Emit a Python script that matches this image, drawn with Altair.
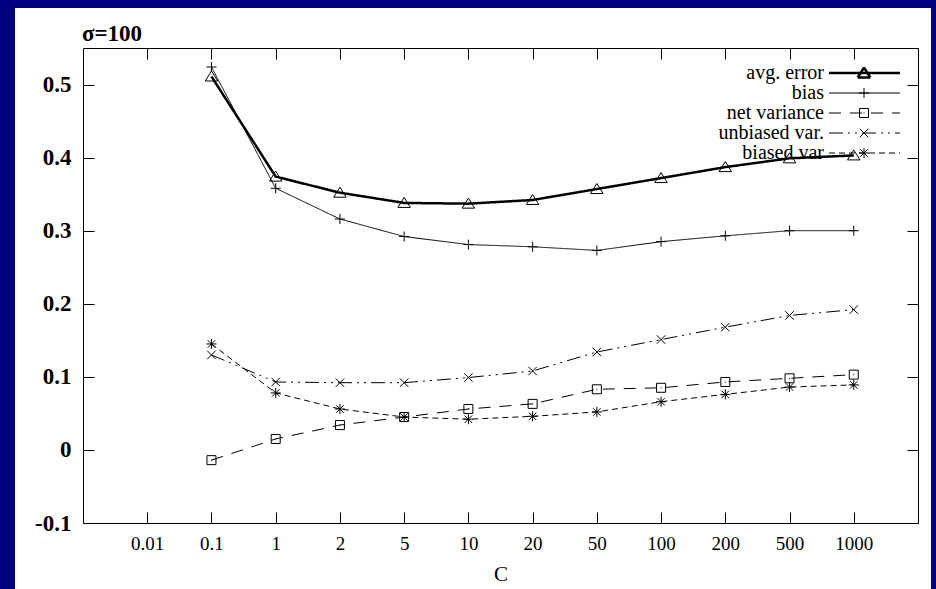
import altair as alt
import pandas as pd

# ---------------- data ----------------
C_labels = ["0.01", "0.1", "1", "2", "5", "10", "20", "50", "100", "200", "500", "1000"]
C_data = ["0.1", "1", "2", "5", "10", "20", "50", "100", "200", "500", "1000"]
series_names = ["avg. error", "bias", "net variance", "unbiased var.", "biased var"]

avg_error = [0.511, 0.374, 0.352, 0.338, 0.337, 0.342, 0.357, 0.372, 0.387, 0.399, 0.403]
bias = [0.524, 0.358, 0.316, 0.292, 0.281, 0.278, 0.273, 0.285, 0.293, 0.300, 0.300]
net_variance = [-0.014, 0.015, 0.034, 0.045, 0.056, 0.063, 0.083, 0.085, 0.093, 0.098, 0.103]
unbiased_var = [0.130, 0.093, 0.092, 0.092, 0.099, 0.108, 0.134, 0.151, 0.168, 0.184, 0.192]
biased_var = [0.145, 0.078, 0.056, 0.045, 0.042, 0.046, 0.052, 0.066, 0.076, 0.086, 0.089]

y_ticks = [-0.1, 0, 0.1, 0.2, 0.3, 0.4, 0.5]

rows = []
for name, vals in zip(series_names, [avg_error, bias, net_variance, unbiased_var, biased_var]):
    for c, v in zip(C_data, vals):
        rows.append({"C": c, "series": name, "value": v})
df = pd.DataFrame(rows)

# ---------------- styles ----------------
FONT = "Liberation Serif"
W, H = 916, 581
X_RANGE = [68, 903]
Y_RANGE = [515, 40]

dashes = [[1, 0], [1, 0], [12, 9], [14, 5, 2, 5, 2, 5], [6, 4]]
widths = [2.5, 1, 1, 1, 1]

# marker shapes as (segments) in unit coordinates
marker_segments = [
    [[(0, -1.1), (1.25, 0.9)], [(1.25, 0.9), (-1.25, 0.9)], [(-1.25, 0.9), (0, -1.1)]],
    [[(-1, 0), (1, 0)], [(0, -1), (0, 1)]],
    [[(-0.9, -0.9), (0.9, -0.9)], [(0.9, -0.9), (0.9, 0.9)], [(0.9, 0.9), (-0.9, 0.9)],
     [(-0.9, 0.9), (-0.9, -0.9)], [(-0.1, 0), (0.1, 0)]],
    [[(-0.85, -0.85), (0.85, 0.85)], [(-0.85, 0.85), (0.85, -0.85)]],
    [[(0, 0), (1, 0)], [(0, 0), (-1, 0)], [(0, 0), (0, 1)], [(0, 0), (0, -1)],
     [(0, 0), (0.75, 0.75)], [(0, 0), (-0.75, -0.75)], [(0, 0), (-0.75, 0.75)], [(0, 0), (0.75, -0.75)]],
]


def path(segs, dx=0.0):
    return "".join("M{:.2f},{:.2f}L{:.2f},{:.2f}".format(a[0] + dx, a[1], b[0] + dx, b[1]) for a, b in segs)


marker_paths = [path(s) for s in marker_segments]
# legend sample: line to the right of the label, marker in its middle
LEG_START, LEG_END, LEG_MID = 3.0, 17.2, 10.0
legend_paths = ["M{:.2f},0L{:.2f},0".format(LEG_START, LEG_END) + path(s, LEG_MID) for s in marker_segments]

x_scale = alt.Scale(type="point", domain=C_labels, range=X_RANGE, padding=1)
y_scale = alt.Scale(domain=[-0.1, 0.55], range=Y_RANGE, nice=False, zero=False)


def xaxis(**kw):
    return alt.Axis(values=C_labels, grid=False, domainColor="black", tickColor="black",
                    labelColor="black", labelAngle=0, **kw)


def yaxis(**kw):
    return alt.Axis(values=y_ticks, grid=False, domainColor="black", tickColor="black",
                    labelColor="black", **kw)


bottom_labels = xaxis(orient="bottom", offset=-66, domain=True, domainWidth=1, ticks=False, tickSize=0,
                      labels=True, labelFont=FONT, labelFontSize=19, labelPadding=11,
                      title="C", titleFont=FONT, titleFontSize=21, titleFontWeight="normal",
                      titleColor="black", titlePadding=10)
left_labels = yaxis(orient="left", offset=-68, domain=True, domainWidth=1, ticks=False, tickSize=0,
                    labels=True, labelFont=FONT, labelFontSize=23, labelFontWeight="bold",
                    labelPadding=12, labelExpr="toString(datum.value)", title=None)
top_frame = xaxis(orient="top", offset=-40, domain=True, domainWidth=1, ticks=False, labels=False, title=None)
right_frame = yaxis(orient="right", offset=-13, domain=True, domainWidth=1, ticks=False, labels=False, title=None)
bottom_ticks = xaxis(orient="bottom", offset=-77, domain=False, ticks=True, tickSize=11, tickWidth=1,
                     labels=False, title=None)
left_ticks = yaxis(orient="left", offset=-79, domain=False, ticks=True, tickSize=11, tickWidth=1,
                   labels=False, title=None)
top_ticks = xaxis(orient="top", offset=-51, domain=False, ticks=True, tickSize=11, tickWidth=1,
                  labels=False, title=None)
right_ticks = yaxis(orient="right", offset=-24, domain=False, ticks=True, tickSize=11, tickWidth=1,
                    labels=False, title=None)

leg = alt.Legend(orient="none", legendX=789, legendY=55, labelAlign="right", labelOffset=0,
                 symbolOffset=0, labelFont=FONT, labelFontSize=20, labelColor="black",
                 symbolSize=100, rowPadding=0, padding=0)

dash_scale = alt.Scale(domain=series_names, range=dashes)
width_scale = alt.Scale(type="ordinal", domain=series_names, range=widths)

lines = alt.Chart(df).mark_line(color="black").encode(
    x=alt.X("C:O", sort=C_labels, scale=x_scale, axis=bottom_labels),
    y=alt.Y("value:Q", scale=y_scale, axis=left_labels),
    strokeDash=alt.StrokeDash("series:N", scale=dash_scale, legend=None),
    strokeWidth=alt.StrokeWidth("series:N", scale=width_scale, legend=None),
)

points = alt.Chart(df).mark_point(filled=False, size=100, color="black", opacity=1, strokeWidth=1).encode(
    x=alt.X("C:O", sort=C_labels, scale=x_scale, axis=top_frame),
    y=alt.Y("value:Q", scale=y_scale, axis=right_frame),
    shape=alt.Shape("series:N", scale=alt.Scale(domain=series_names, range=marker_paths), legend=None),
)

legend_layer = alt.Chart(df).transform_filter("false").mark_point(
    filled=False, size=100, color="black", opacity=1).encode(
    x=alt.X("C:O", sort=C_labels, scale=x_scale, axis=bottom_ticks),
    y=alt.Y("value:Q", scale=y_scale, axis=left_ticks),
    shape=alt.Shape("series:N", title=None, scale=alt.Scale(domain=series_names, range=legend_paths), legend=leg),
    strokeDash=alt.StrokeDash("series:N", title=None, scale=dash_scale, legend=leg),
    strokeWidth=alt.StrokeWidth("series:N", title=None, scale=width_scale, legend=leg),
)

tick_layer = alt.Chart(df).transform_filter("false").mark_point(opacity=0).encode(
    x=alt.X("C:O", sort=C_labels, scale=x_scale, axis=top_ticks),
    y=alt.Y("value:Q", scale=y_scale, axis=right_ticks),
)

chart = alt.layer(lines, points, legend_layer, tick_layer).resolve_scale(
    shape="independent", strokeDash="independent", strokeWidth="independent"
).resolve_axis(
    x="independent", y="independent"
).properties(
    width=W, height=H, background="#000080",
    padding={"left": 15, "top": 8, "right": 5, "bottom": 0},
    title=alt.TitleParams(text="σ=100", anchor="start", frame="group", font=FONT, fontSize=23,
                          fontWeight="bold", color="black", baseline="alphabetic", offset=0,
                          dx=67, dy=56),
).configure_view(fill="white", strokeWidth=0)

chart.save("out.html", embed_options={"renderer": "svg", "actions": False})
